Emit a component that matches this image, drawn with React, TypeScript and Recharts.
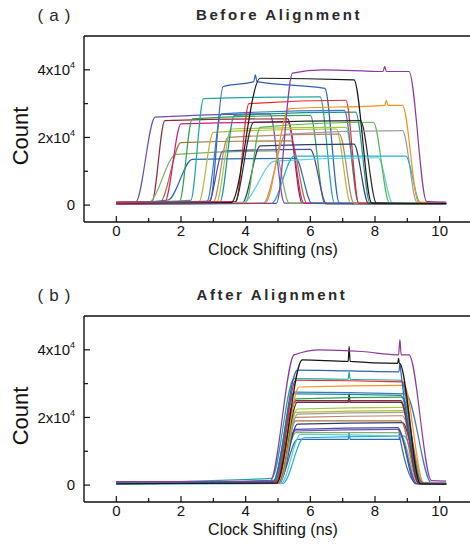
import { Line, LineChart, XAxis, YAxis } from "recharts"

type Pt = [number, number]

// axis ticks
const xTicks = [0, 1, 2, 3, 4, 5, 6, 7, 8, 9, 10]
const yTicks = [0, 10000, 20000, 30000, 40000]
const yTickText: Record<number, [string, string]> = {
  0: ["0", ""],
  20000: ["2x10", "4"],
  40000: ["4x10", "4"],
}

// (a) before alignment: one row per trace
// edges: rise start, rise end, fall start, fall end (ns)
const edgesA = [
  [0.6, 1.2, 4.75, 5.2],
  [1.1, 1.5, 5.3, 5.75],
  [1.0, 1.85, 4.9, 5.35],
  [1.35, 2.0, 5.4, 5.9],
  [1.5, 2.0, 5.3, 5.8],
  [1.6, 2.35, 5.55, 6.05],
  [1.95, 2.35, 6.0, 6.45],
  [2.3, 2.7, 6.3, 6.75],
  [2.55, 3.0, 6.8, 7.25],
  [2.9, 3.3, 6.45, 6.9],
  [2.85, 3.3, 6.0, 6.5],
  [3.0, 3.45, 6.9, 7.35],
  [3.1, 3.55, 7.1, 7.5],
  [2.8, 3.25, 7.05, 7.5],
  [3.2, 3.65, 7.4, 7.85],
  [3.7, 4.1, 7.1, 7.5],
  [3.65, 4.25, 7.55, 8.05],
  [3.9, 4.45, 7.35, 7.8],
  [3.9, 4.9, 8.1, 8.55],
  [4.0, 4.45, 7.95, 8.45],
  [4.55, 5.25, 8.85, 9.3],
  [4.8, 5.5, 8.95, 9.4],
  [4.6, 5.35, 8.85, 9.35],
  [3.55, 4.45, 7.35, 7.9],
  [4.95, 5.45, 9.05, 9.6],
]
// plateau counts at start / end
const levelsA = [
  [26000, 27000], [25000, 25500], [15000, 16000], [18500, 19000], [24000, 24500],
  [13500, 13800], [25500, 26500], [31500, 32000], [21500, 22500], [35000, 34500],
  [16000, 16500], [20000, 21000], [22500, 23000], [27000, 28000], [26500, 27500],
  [30000, 31000], [24500, 25000], [17500, 18000], [13000, 14000], [23000, 24500],
  [21000, 22000], [14500, 14500], [28500, 29500], [37500, 37000], [39000, 39500],
]
// baseline counts: at 0, at rise start, at fall end, at 10.2
const floorsA = [
  [700, 900, 600, 500], [900, 1000, 500, 400], [600, 900, 500, 400], [700, 900, 500, 400], [800, 1000, 500, 400],
  [500, 1500, 500, 400], [600, 900, 400, 400], [800, 1400, 500, 400], [600, 900, 500, 400], [700, 1200, 500, 400],
  [500, 800, 400, 400], [600, 900, 500, 400], [500, 900, 500, 400], [700, 1000, 500, 400], [500, 800, 500, 400],
  [800, 1000, 500, 400], [400, 700, 500, 400], [400, 700, 500, 400], [400, 800, 500, 400], [400, 700, 600, 500],
  [300, 600, 800, 600], [300, 500, 700, 600], [300, 600, 900, 700], [400, 700, 600, 500], [300, 500, 1000, 900],
]
// extra plateau points (spikes, humps) per trace
const extrasA: [number, Pt[]][] = [
  [9, [[4.25, 36500], [4.3, 38500], [4.35, 36500]]],
  [22, [[8.3, 29500], [8.35, 31000], [8.4, 29500]]],
  [24, [[6.4, 40000], [8.25, 39500], [8.3, 41000], [8.35, 39500]]],
]
const colorsA = [
  "#6a4fb0", "#8a2b3b", "#7fae6a", "#a8723b", "#d8197e",
  "#2b6da7", "#2ea04f", "#1ea69e", "#b2bb3c", "#2c62b6",
  "#4b4ba3", "#b9826c", "#9dc93d", "#3a79c1", "#1f8f8f",
  "#e8262a", "#2b2b2b", "#2d3e6b", "#5fcbe0", "#55b94a",
  "#9e9e9e", "#24b1d2", "#f7931e", "#161616", "#8c3a9d",
]

// (b) after alignment
const edgesB = [
  [5.05, 5.6, 8.75, 9.3],
  [5.15, 5.8, 8.9, 9.45],
  [5.1, 5.7, 8.8, 9.35],
  [5.0, 5.55, 8.75, 9.3],
  [5.0, 5.5, 8.7, 9.3],
  [5.0, 5.55, 8.7, 9.25],
  [5.05, 5.6, 8.85, 9.45],
  [5.0, 5.55, 8.8, 9.35],
  [5.0, 5.55, 8.85, 9.4],
  [5.05, 5.6, 8.9, 9.5],
  [5.0, 5.55, 8.85, 9.4],
  [5.0, 5.6, 8.85, 9.45],
  [4.9, 5.5, 8.8, 9.35],
  [5.0, 5.6, 8.8, 9.4],
  [4.95, 5.55, 8.85, 9.45],
  [5.0, 5.55, 8.8, 9.35],
  [4.9, 5.5, 8.8, 9.4],
  [4.85, 5.5, 8.95, 9.75],
  [5.0, 5.65, 8.9, 9.5],
  [4.8, 5.5, 8.8, 9.4],
  [4.95, 5.55, 8.85, 9.4],
  [4.85, 5.6, 8.8, 9.5],
  [4.95, 5.75, 8.75, 9.4],
  [4.75, 5.5, 9.05, 9.75],
]
const levelsB = [
  [13500, 13500], [14000, 14500], [15000, 14500], [15500, 15500], [16000, 16500],
  [16500, 17000], [18000, 18500], [19000, 19000], [20000, 20500], [21000, 21500],
  [21500, 22000], [22500, 23000], [24500, 24500], [24500, 24500], [25500, 26000],
  [25000, 25000], [27000, 26500], [27500, 27000], [29000, 29500], [31500, 31000],
  [31000, 30500], [34000, 33500], [37000, 36000], [38500, 38500],
]
const floorsB = [
  [500, 1500, 400, 300], [300, 500, 600, 500], [400, 600, 500, 400], [500, 800, 400, 300], [600, 800, 400, 300],
  [500, 700, 400, 300], [400, 700, 500, 400], [600, 800, 500, 400], [500, 800, 500, 400], [400, 700, 700, 600],
  [500, 800, 500, 400], [500, 800, 500, 400], [800, 1000, 500, 400], [400, 700, 400, 300], [500, 900, 500, 400],
  [700, 900, 400, 300], [600, 1000, 500, 400], [600, 1200, 600, 500], [500, 800, 700, 600], [700, 2000, 500, 400],
  [1000, 1000, 500, 400], [500, 900, 600, 500], [400, 600, 400, 300], [1000, 1000, 1300, 1200],
]
const extrasB: [number, Pt[]][] = [
  [0, [[7.17, 13500], [7.2, 15500], [7.23, 13500]]],
  [0, [[8.72, 13500], [8.75, 16500], [8.78, 13500]]],
  [13, [[7.17, 24500], [7.2, 27000], [7.23, 24500]]],
  [19, [[7.17, 31300], [7.2, 33500], [7.23, 31300]]],
  [21, [[8.74, 33500], [8.77, 36000], [8.8, 33500]]],
  [22, [[7.17, 36600], [7.2, 41000], [7.23, 36600]]],
  [22, [[8.7, 36000], [8.73, 37500], [8.76, 36000]]],
  [23, [[6.3, 40000], [7.6, 39500], [8.73, 38500], [8.77, 43000], [8.81, 38500]]],
]
const colorsB = [
  "#2b6da7", "#24b1d2", "#5fcbe0", "#7fae6a", "#6a4fb0",
  "#4b4ba3", "#2d3e6b", "#a8723b", "#b9826c", "#9e9e9e",
  "#b2bb3c", "#9dc93d", "#d8197e", "#2b2b2b", "#2ea04f",
  "#8a2b3b", "#1f8f8f", "#3a79c1", "#f7931e", "#1ea69e",
  "#e8262a", "#2c62b6", "#161616", "#8c3a9d",
]

function makeSeries(edges: number[][], levels: number[][], floors: number[][], extras: [number, Pt[]][]) {
  return edges.map((e, i) => {
    const [rs, re, fs, fe] = e
    const [l0, l1] = levels[i]
    const [b0, b1, b2, b3] = floors[i]
    const pts: Pt[] = [[0, b0], [rs, b1], [re, l0], [fs, l1], [fe, b2], [10.2, b3]]
    extras.filter((s) => s[0] === i).forEach((s) => pts.push(...s[1]))
    pts.sort((a, b) => a[0] - b[0])
    return pts.map(([x, y]) => ({ x, y }))
  })
}

const seriesA = makeSeries(edgesA, levelsA, floorsA, extrasA)
const seriesB = makeSeries(edgesB, levelsB, floorsB, extrasB)

const ink = "#111"

function BottomTick(props: any) {
  const { x, y, payload } = props
  const major = payload.value % 2 === 0
  return (
    <g>
      <line x1={x} x2={x} y1={y} y2={y - (major ? 6 : 4)} stroke={ink} strokeWidth={1.2} />
      {major && (
        <text x={x} y={y + 14} textAnchor="middle" fontSize={15} fill={ink}>
          {payload.value}
        </text>
      )}
    </g>
  )
}

function TopTick(props: any) {
  const { x, y, payload } = props
  const major = payload.value % 2 === 0
  return <line x1={x} x2={x} y1={y} y2={y + (major ? 5 : 3)} stroke={ink} strokeWidth={1.2} />
}

function LeftTick(props: any) {
  const { x, y, payload } = props
  const label = yTickText[payload.value]
  return (
    <g>
      <line x1={x} x2={x + (label ? 6 : 4)} y1={y} y2={y} stroke={ink} strokeWidth={1.2} />
      {label && (
        <text x={x - 9} y={y + 5.3} textAnchor="end" fontSize={15} fill={ink}>
          {label[0]}
          {label[1] && (
            <tspan dy={-7} fontSize={9}>
              {label[1]}
            </tspan>
          )}
        </text>
      )}
    </g>
  )
}

function RightTick(props: any) {
  const { x, y, payload } = props
  const major = payload.value % 20000 === 0
  return <line x1={x} x2={x - (major ? 6 : 4)} y1={y} y2={y} stroke={ink} strokeWidth={1.2} />
}

const xTitle = (props: any) => {
  const vb = props.viewBox
  return (
    <text x={vb.x + vb.width / 2 - 5} y={vb.y + 33} textAnchor="middle" fontSize={16} fill={ink}>
      Clock Shifting (ns)
    </text>
  )
}

const yTitle = (props: any) => {
  const vb = props.viewBox
  const cx = 20
  const cy = vb.y + vb.height / 2 + 7
  return (
    <text x={cx} y={cy} transform={`rotate(-90 ${cx} ${cy})`} textAnchor="middle" dominantBaseline="central" fontSize={22} fill={ink}>
      Count
    </text>
  )
}

const axisStyle = { stroke: ink, strokeWidth: 1.4 }

function Panel({ series, colors }: { series: { x: number; y: number }[][]; colors: string[] }) {
  return (
    <LineChart width={480} height={270} margin={{ top: 35, right: 0, bottom: 8, left: 0 }}>
      <XAxis
        dataKey="x"
        type="number"
        domain={[-1, 11]}
        ticks={xTicks}
        allowDataOverflow
        height={40}
        tickSize={0}
        tickMargin={0}
        tickLine={false}
        axisLine={axisStyle}
        tick={BottomTick}
        interval={0}
        label={xTitle}
      />
      <XAxis
        xAxisId="top"
        orientation="top"
        type="number"
        domain={[-1, 11]}
        ticks={xTicks}
        height={1}
        tickSize={0}
        tickMargin={0}
        tickLine={false}
        axisLine={axisStyle}
        tick={TopTick}
        interval={0}
      />
      <YAxis
        type="number"
        domain={[-5000, 50000]}
        ticks={yTicks}
        allowDataOverflow
        width={84}
        tickSize={0}
        tickMargin={0}
        tickLine={false}
        axisLine={axisStyle}
        tick={LeftTick}
        interval={0}
        label={yTitle}
      />
      <YAxis
        yAxisId="right"
        orientation="right"
        type="number"
        domain={[-5000, 50000]}
        ticks={yTicks}
        width={8}
        tickSize={0}
        tickMargin={0}
        tickLine={false}
        axisLine={axisStyle}
        tick={RightTick}
        interval={0}
      />
      {series.map((d, i) => (
        <Line
          key={i}
          data={d}
          dataKey="y"
          type="monotone"
          stroke={colors[i]}
          strokeWidth={1.2}
          dot={false}
          activeDot={false}
          isAnimationActive={false}
        />
      ))}
    </LineChart>
  )
}

const titleStyle = {
  position: "absolute" as const,
  transform: "translate(-50%, -50%)",
  fontSize: 15,
  lineHeight: 1,
  fontWeight: 700,
  letterSpacing: 2.6,
  color: "#2a2a2a",
  whiteSpace: "nowrap" as const,
}
const tagStyle = {
  ...titleStyle,
  fontSize: 17,
  fontWeight: 400,
  letterSpacing: 6,
}

export default function App() {
  return (
    <div
      style={{
        position: "absolute",
        left: 0,
        top: 0,
        width: 470,
        height: 547,
        overflow: "hidden",
        background: "#fff",
        fontFamily: "Arial, 'Liberation Sans', sans-serif",
      }}
    >
      <div style={{ ...tagStyle, left: 57, top: 15 }}>(a)</div>
      <div style={{ ...titleStyle, left: 279, top: 14 }}>Before Alignment</div>
      <div style={{ position: "absolute", left: 0, top: 0 }}>
        <Panel series={seriesA} colors={colorsA} />
      </div>
      <div style={{ ...tagStyle, left: 57, top: 295 }}>(b)</div>
      <div style={{ ...titleStyle, left: 272, top: 294 }}>After Alignment</div>
      <div style={{ position: "absolute", left: 0, top: 280 }}>
        <Panel series={seriesB} colors={colorsB} />
      </div>
    </div>
  )
}
